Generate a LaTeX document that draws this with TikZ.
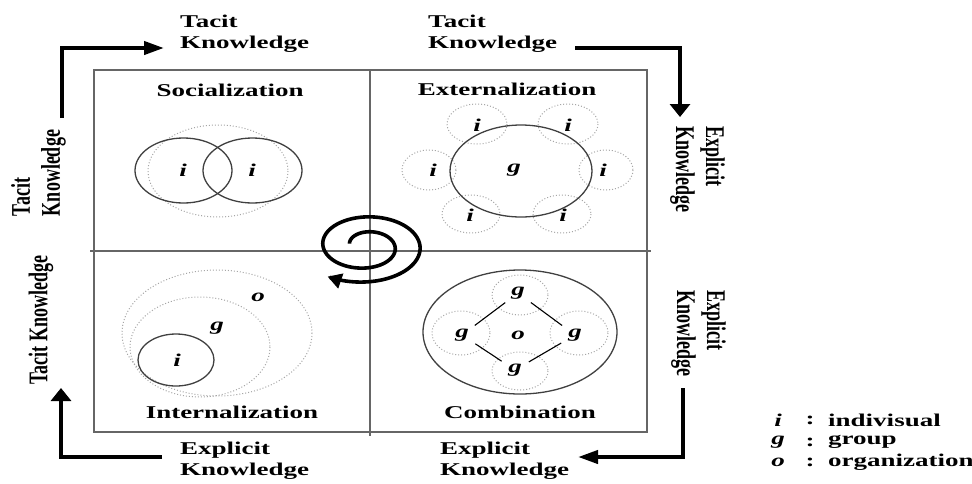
\documentclass[tikz,border=0pt]{standalone}
\usepackage{fontspec}
\setmainfont{Liberation Serif}
\usepackage{graphicx}
\usetikzlibrary{arrows.meta}
\newcommand{\sx}[1]{\scalebox{1.5}[1]{#1}}
\newcommand{\rotL}[1]{\sx{\rotatebox{90}{#1}}}
\newcommand{\rotR}[1]{\sx{\rotatebox{-90}{#1}}}
\newcommand{\twol}[2]{\begin{tabular}{@{}l@{}}#1\\#2\end{tabular}}
\begin{document}
\begin{tikzpicture}[x=1pt,y=-1pt,
  lab/.style={font=\bfseries\fontsize{18}{21}\selectfont, inner sep=0pt},
  rlab/.style={font=\bfseries\fontsize{18}{20}\selectfont, inner sep=0pt},
  let/.style={font=\bfseries\itshape\fontsize{18}{20}\selectfont, inner sep=0pt},
  solidc/.style={draw=black!75, line width=1.3pt},
  dotc/.style={draw=black!35, dotted, line width=1pt},
  quad/.style={draw=black!60, line width=1.2pt},
  flowv/.style={line width=4pt, line join=miter, -{Triangle[length=13pt,width=20pt]}},
  flowh/.style={line width=4pt, line join=miter, -{Triangle[length=20pt,width=13pt]}},
  diag/.style={draw=black, line width=1.1pt, shorten <=16pt, shorten >=16pt},
  spiral/.style={line width=3.6pt, -{Triangle[length=14pt,width=15pt]}}
]
\useasboundingbox (0,0) rectangle (972,483);

% quadrant frame
\draw[quad] (94,70) rectangle (647,432);
\draw[quad] (370,70) -- (370,436);
\draw[quad] (90,251) -- (651,251);

% titles
\node[lab] (soc) at (230,90) {\sx{Socialization}};
\node[lab] (ext) at (507,89) {\sx{Externalization}};
\node[lab] (int) at (232,412) {\sx{Internalization}};
\node[lab] (com) at (520,412) {\sx{Combination}};

% outer labels
\node[lab, anchor=west] (tk1) at (180,34) {\sx{\twol{Tacit}{Knowledge}}};
\node[lab, anchor=west] (tk2) at (428,34) {\sx{\twol{Tacit}{Knowledge}}};
\node[lab, anchor=west] (ek1) at (180,461) {\sx{\twol{Explicit}{Knowledge}}};
\node[lab, anchor=west] (ek2) at (440,461) {\sx{\twol{Explicit}{Knowledge}}};
\node[rlab] (tk3) at (39,173) {\rotL{\twol{Tacit}{Knowledge}}};
\node[rlab] (tk4) at (41,320) {\rotL{Tacit Knowledge}};
\node[rlab] (ek3) at (697,169) {\rotR{\twol{Explicit}{Knowledge}}};
\node[rlab] (ek4) at (698,333) {\rotR{\twol{Explicit}{Knowledge}}};

% flow arrows
\coordinate (a1s) at (62,118); \coordinate (a1c) at (62,48); \coordinate (a1e) at (164,48);
\coordinate (a2s) at (575,48); \coordinate (a2c) at (680,48); \coordinate (a2e) at (680,117);
\coordinate (a3s) at (683,388); \coordinate (a3c) at (683,457); \coordinate (a3e) at (578,457);
\coordinate (a4s) at (162,457); \coordinate (a4c) at (61,457); \coordinate (a4e) at (61,388);
\draw[flowh] (a1s) -- (a1c) -- (a1e);
\draw[flowv] (a2s) -- (a2c) -- (a2e);
\draw[flowh] (a3s) -- (a3c) -- (a3e);
\draw[flowv] (a4s) -- (a4c) -- (a4e);

% Socialization
\draw[dotc] (218,171) ellipse [x radius=70, y radius=46];
\draw[solidc] (183.5,170.5) ellipse [x radius=48.5, y radius=32.5];
\draw[solidc] (252.5,170.5) ellipse [x radius=49.5, y radius=32.5];
\node[let] (si1) at (183,170) {\sx{i}};
\node[let] (si2) at (252,170) {\sx{i}};

% Externalization
\draw[dotc] (477,124) ellipse [x radius=30, y radius=20];
\draw[dotc] (568,124) ellipse [x radius=30, y radius=20];
\draw[dotc] (429,170) ellipse [x radius=27, y radius=20];
\draw[dotc] (606,170) ellipse [x radius=27, y radius=20];
\draw[dotc] (471,214) ellipse [x radius=29, y radius=19];
\draw[dotc] (562,214) ellipse [x radius=29, y radius=19];
\draw[solidc] (521,171) ellipse [x radius=71, y radius=46];
\node[let] (eg) at (514,170) {\sx{g}};
\node[let] (ei1) at (477,125) {\sx{i}};
\node[let] (ei2) at (568,125) {\sx{i}};
\node[let] (ei3) at (433,170) {\sx{i}};
\node[let] (ei4) at (603,170) {\sx{i}};
\node[let] (ei5) at (470,215) {\sx{i}};
\node[let] (ei6) at (563,215) {\sx{i}};

% Internalization
\draw[dotc] (217,333) ellipse [x radius=95, y radius=63];
\draw[dotc] (200,347) ellipse [x radius=70, y radius=50];
\draw[solidc] (176,360) ellipse [x radius=38, y radius=26];
\node[let] (io) at (258,297) {\sx{o}};
\node[let] (ig) at (217,328) {\sx{g}};
\node[let] (ii) at (177,360) {\sx{i}};

% Combination
\draw[solidc] (520,332) ellipse [x radius=97, y radius=62];
\draw[dotc] (520,295) ellipse [x radius=28, y radius=20];
\draw[dotc] (461,333) ellipse [x radius=29, y radius=22];
\draw[dotc] (579,333) ellipse [x radius=29, y radius=22];
\draw[dotc] (520,371) ellipse [x radius=28, y radius=19];
\node[let] (cgt) at (518,293) {\sx{g}};
\node[let] (cgl) at (462,335) {\sx{g}};
\node[let] (cgr) at (575,335) {\sx{g}};
\node[let] (cgb) at (515,370) {\sx{g}};
\node[let] (co) at (518,335) {\sx{o}};
\draw[diag] (cgl.center) -- (cgt.center);
\draw[diag] (cgt.center) -- (cgr.center);
\draw[diag] (cgl.center) -- (cgb.center);
\draw[diag] (cgb.center) -- (cgr.center);

% spiral
\draw[spiral] plot[domain=195:845, samples=260, variable=\t]
  ({366.25-0.0028*(\t-180)+(16.25+0.0722*(\t-180))*cos(\t)},
   {246.6-0.0014*(\t-180)+(10.9+0.0403*(\t-180))*sin(\t)});

% legend
\node[let] (li) at (778,420) {\sx{i}};
\node[lab] (lc1) at (810,420) {\sx{:}};
\node[lab, anchor=west] (lw1) at (828,420) {\sx{indivisual}};
\node[let] (lg) at (778,442) {\sx{g}};
\node[lab] (lc2) at (810,442) {\sx{:}};
\node[lab, anchor=west] (lw2) at (828,442) {\sx{group}};
\node[let] (lo) at (778,462) {\sx{o}};
\node[lab] (lc3) at (810,462) {\sx{:}};
\node[lab, anchor=west] (lw3) at (828,462) {\sx{organization}};
\end{tikzpicture}
\end{document}
